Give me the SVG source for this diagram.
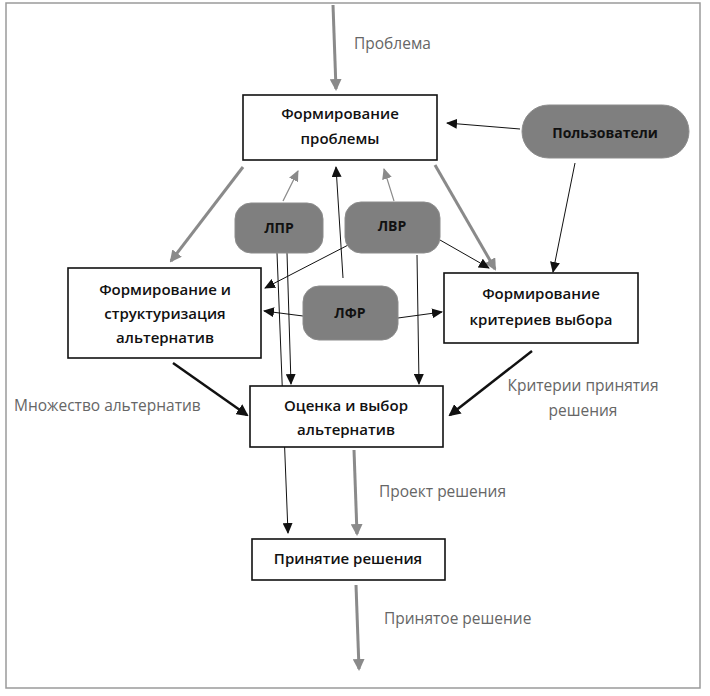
<svg xmlns="http://www.w3.org/2000/svg" width="710" height="696" viewBox="0 0 710 696">
<style>
.box{fill:#fff;stroke:#111;stroke-width:1.6}
.pill{fill:#7f7f7f;stroke:#8c8c8c;stroke-width:1}
.nt{font-family:"Open Sans","Liberation Sans",sans-serif;font-weight:600;font-size:15px;fill:#111;text-anchor:middle}
.pt{font-family:"Open Sans","Liberation Sans",sans-serif;font-weight:700;font-size:14px;fill:#111;text-anchor:middle}
.lbl{font-family:"Open Sans","Liberation Sans",sans-serif;font-size:15.5px;fill:#666}
.thin{stroke:#111;stroke-width:1;fill:none;marker-end:url(#ab)}
.thing{stroke:#8a8a8a;stroke-width:1.2;fill:none;marker-end:url(#ag)}
.thickg{stroke:#8a8a8a;stroke-width:3;fill:none;marker-end:url(#agt)}
.thickb{stroke:#111;stroke-width:2.5;fill:none;marker-end:url(#abt)}
</style>
<defs>
<marker id="ab" markerUnits="userSpaceOnUse" markerWidth="12" markerHeight="10" refX="10" refY="5" orient="auto"><path d="M0,0 L11,5 L0,10 z" fill="#111"/></marker>
<marker id="ag" markerUnits="userSpaceOnUse" markerWidth="12" markerHeight="10" refX="10" refY="5" orient="auto"><path d="M0,0 L11,5 L0,10 z" fill="#8a8a8a"/></marker>
<marker id="agt" markerUnits="userSpaceOnUse" markerWidth="12" markerHeight="12" refX="10" refY="6" orient="auto"><path d="M0,0 L12,6 L0,12 z" fill="#8a8a8a"/></marker>
<marker id="abt" markerUnits="userSpaceOnUse" markerWidth="12" markerHeight="12" refX="10" refY="6" orient="auto"><path d="M0,0 L12,6 L0,12 z" fill="#111"/></marker>
</defs>
<rect x="6" y="3" width="694" height="685" fill="#fff" stroke="#9a9a9a" stroke-width="1.5"/>
<g id="connectors">
<path class="thickg" d="M333,5 L336,89"/>
<path class="thin" d="M520,129 L447,123"/>
<path class="thin" d="M575,163 L553,272"/>
<path class="thickg" d="M243,167 L171,261"/>
<path class="thickg" d="M435,165 L495,269"/>
<path class="thing" d="M283,201 L298,171"/>
<path class="thin" d="M343,278 L336,167"/>
<path class="thing" d="M394,201 L384,169"/>
<path class="thin" d="M354,242 L265,288"/>
<path class="thin" d="M440,240 L489,268"/>
<path class="thin" d="M303,316 L264,311"/>
<path class="thin" d="M398,318 L442,312"/>
<path class="thin" d="M277,253 L288,533"/>
<path class="thin" d="M287,253 L291,384"/>
<path class="thin" d="M417,255 L419,384"/>
<path class="thickb" d="M173,363 L247,415"/>
<path class="thickb" d="M532,351 L450,415"/>
<path class="thickg" d="M354,450 L357,534"/>
<path class="thickg" d="M356,585 L359,669"/>
</g>
<g id="n_problem"><rect class="box" x="243" y="95" width="194" height="65"/><text class="nt" x="340" y="118.5">Формирование</text><text class="nt" x="340" y="143.5">проблемы</text></g>
<g id="n_users"><rect class="pill" x="522" y="105" width="167" height="53" rx="26.5"/><text class="pt" x="605" y="138">Пользователи</text></g>
<g id="n_lpr"><rect class="pill" x="235" y="203" width="88" height="50" rx="16"/><text class="pt" x="279" y="233">ЛПР</text></g>
<g id="n_lvr"><rect class="pill" x="345" y="202" width="95" height="51" rx="16"/><text class="pt" x="392" y="231">ЛВР</text></g>
<g id="n_lfr"><rect class="pill" x="303" y="286" width="95" height="54" rx="16"/><text class="pt" x="350" y="318">ЛФР</text></g>
<g id="n_alt"><rect class="box" x="68" y="268" width="193" height="90"/><text class="nt" x="165" y="294.5">Формирование и</text><text class="nt" x="165" y="318.5">структуризация</text><text class="nt" x="165" y="342.5">альтернатив</text></g>
<g id="n_crit"><rect class="box" x="444" y="273" width="194" height="70"/><text class="nt" x="541" y="298.5">Формирование</text><text class="nt" x="541" y="324.5">критериев выбора</text></g>
<g id="n_eval"><rect class="box" x="250" y="386" width="193" height="61"/><text class="nt" x="346" y="410.5">Оценка и выбор</text><text class="nt" x="346" y="434.5">альтернатив</text></g>
<g id="n_dec"><rect class="box" x="252" y="539" width="193" height="41"/><text class="nt" x="348" y="563.5">Принятие решения</text></g>
<g id="labels">
<text class="lbl" x="354" y="48.5">Проблема</text>
<text class="lbl" x="14" y="410.5">Множество альтернатив</text>
<text class="lbl" x="583" y="390.5" text-anchor="middle">Критерии принятия</text>
<text class="lbl" x="583" y="415.5" text-anchor="middle">решения</text>
<text class="lbl" x="379" y="496.5">Проект решения</text>
<text class="lbl" x="384" y="623.5">Принятое решение</text>
</g>
</svg>
